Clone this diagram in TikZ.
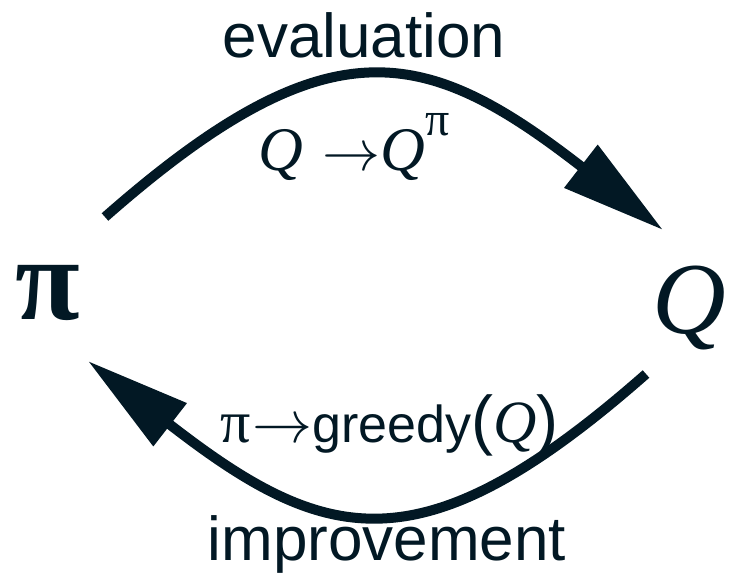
\RequirePackage{fix-cm}
\documentclass[tikz,border=0pt]{standalone}
\usepackage{fontspec}
\setmainfont{Liberation Serif}
\newfontfamily\sansf{Liberation Sans}
\usetikzlibrary{arrows.meta}
\definecolor{ink}{HTML}{021824}
\begin{document}
\begin{tikzpicture}[x=1pt,y=-1pt,
  every node/.style={inner sep=0pt, outer sep=0pt, text=ink},
  flow/.style={draw=ink, line width=10pt, -{Triangle[length=104pt,width=52pt]}},
  word/.style={font=\sansf\fontsize{62}{62}\selectfont, anchor=base},
  big/.style={anchor=base west}]
\useasboundingbox (0,0) rectangle (730,576);
\fill[white] (0,0) rectangle (730,576);
% labels
\node[word] (eval) at (364,57) {evaluation};
\node[word] (impr) at (387,560) {improvement};
% vertices
\node[big, font=\bfseries\fontsize{118}{118}\selectfont] (pi) at (15,319) {π};
\node[big, font=\itshape\fontsize{102}{102}\selectfont] (Q) at (652,333) {Q};
% formulas
\node[big] (f1) at (258,170) {{\itshape\fontsize{62}{62}\selectfont Q}\hspace{20pt}{\fontsize{58}{58}\selectfont$\rightarrow$}{\itshape\fontsize{62}{62}\selectfont Q}\raisebox{35pt}{\fontsize{48}{48}\selectfont π}};
\node[big] (f2) at (220,442) {{\fontsize{60}{60}\selectfont π}\hspace{2pt}{\fontsize{60}{60}\selectfont$\rightarrow$}{\sansf\fontsize{52}{52}\selectfont greedy}{\sansf\fontsize{66}{66}\selectfont (}{\itshape\fontsize{60}{60}\selectfont Q}{\sansf\fontsize{66}{66}\selectfont )}};
% connectors
\coordinate (ts) at (105,217);
\coordinate (te) at (663,230);
\coordinate (bs) at (646,374);
\coordinate (be) at (88,361);
\draw[flow] (ts) .. controls (330,19) and (426,46) .. (te);
\draw[flow] (bs) .. controls (421,572) and (325,545) .. (be);
\end{tikzpicture}
\end{document}
